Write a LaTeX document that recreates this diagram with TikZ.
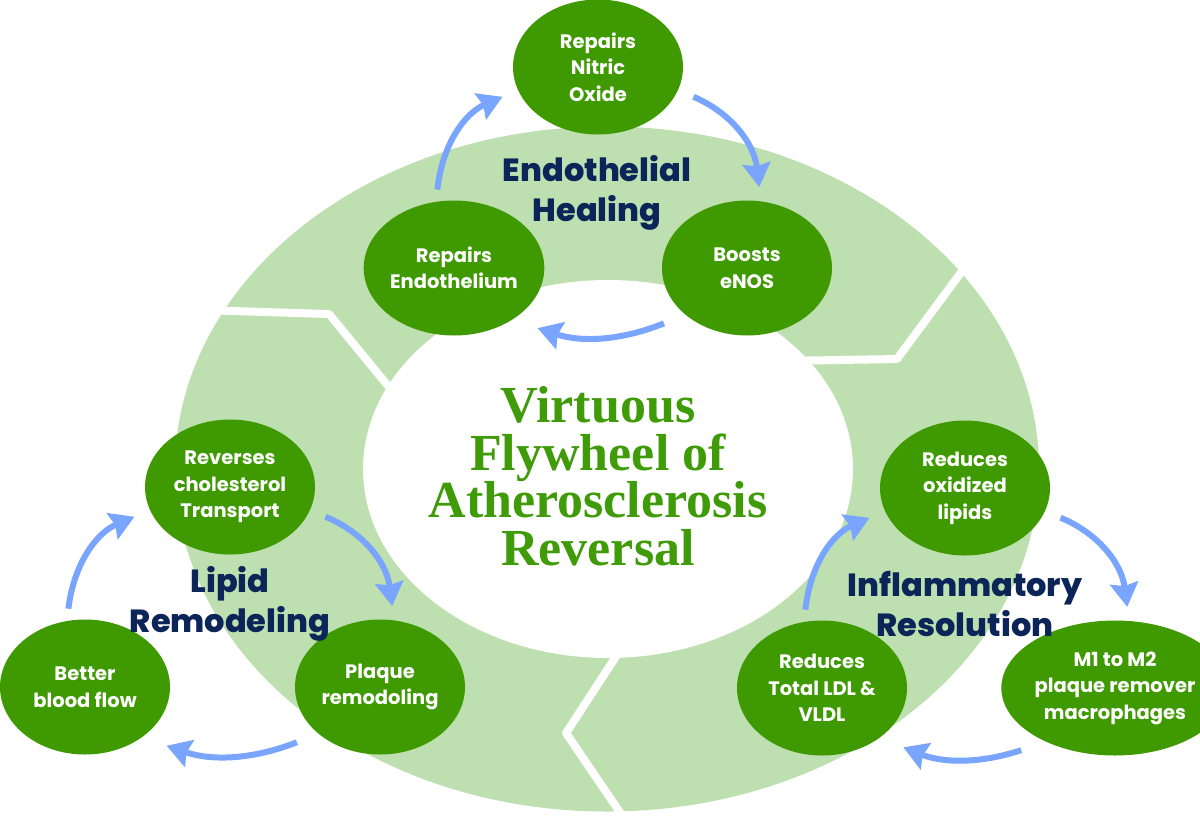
\documentclass[tikz,border=0pt]{standalone}
\usepackage{fontspec}
\setmainfont{Poppins}
\newfontfamily\titleserif{Liberation Serif}
\IfFontExistsTF{Poppins ExtraBold}
  {\newfontfamily\phasefont{Poppins ExtraBold}}
  {\newfontfamily\phasefont{Poppins}[UprightFeatures={FakeBold=2}]}
\usetikzlibrary{arrows.meta,shapes.geometric}
\definecolor{leaf}{HTML}{3E9A00}
\definecolor{ringgreen}{HTML}{BEDFB0}
\definecolor{navy}{HTML}{0B2559}
\definecolor{arrowblue}{HTML}{7AA5FF}
\definecolor{titlegreen}{HTML}{3F9B08}
\tikzset{
  every picture/.style={line join=round},
  % green ellipses with white text
  stage/.style={ellipse, fill=leaf, text=white, minimum width=170pt,
    minimum height=135pt, inner sep=0pt, outer sep=12pt, align=center,
    font=\bfseries\fontsize{19.5}{26.5}\selectfont},
  phase/.style={text=navy, align=center, inner sep=0pt,
    font=\phasefont\fontsize{32}{40}\selectfont},
  flowarrow/.style={arrowblue, line width=6pt,
    -{Stealth[length=24pt,width=28pt,inset=3pt]}},
  cut/.style={white, line width=8pt},
}

\begin{document}
\begin{tikzpicture}[x=1pt,y=-1pt]
\useasboundingbox (0,0) rectangle (1200,815);

% the flywheel ring
\fill[ringgreen] (607,469) ellipse [x radius=432, y radius=342.5];
\fill[white] (608,469) ellipse [x radius=245, y radius=189];
\draw[cut] (200,310) -- (329,314) -- (398,398);
\draw[cut] (968,263) -- (897,359) -- (780,361);
\draw[cut] (630,635) -- (566,733) -- (632,830);

% endothelial healing
\node[stage] (nitric) at (598,67) {Repairs\\Nitric\\Oxide};
\node[stage] (endo) at (454,268) {Repairs\\Endothelium};
\node[stage] (enos) at (747,268) {Boosts\\eNOS};

% lipid remodeling
\node[stage] (rct) at (230,487) {Reverses\\cholesterol\\Transport};
\node[stage] (blood) at (85,687) {Better\\blood flow};
\node[stage] (plaque) at (380,687) {Plaque\\remodoling};

% inflammatory resolution
\node[stage] (oxlip) at (965,488) {Reduces\\oxidized\\lipids};
\node[stage] (ldl) at (822,688) {Reduces\\Total LDL \&\\VLDL};
\node[stage] (macro) at (1115,688) {M1 to M2\\plaque remover\\macrophages};

\draw[flowarrow, shorten >=5pt] (endo.102) to[bend left=30] (nitric.197);
\draw[flowarrow, shorten <=5pt, shorten >=2pt] (nitric.343) to[bend left=30] (enos.81);
\draw[flowarrow, shorten <=10pt, shorten >=12pt] (enos.215) to[bend left=20] (endo.322);

\draw[flowarrow, shorten >=5pt] (blood.102) to[bend left=30] (rct.197);
\draw[flowarrow, shorten <=5pt, shorten >=2pt] (rct.343) to[bend left=30] (plaque.81);
\draw[flowarrow, shorten <=10pt, shorten >=12pt] (plaque.215) to[bend left=20] (blood.322);

\draw[flowarrow, shorten >=5pt] (ldl.102) to[bend left=30] (oxlip.197);
\draw[flowarrow, shorten <=5pt, shorten >=2pt] (oxlip.343) to[bend left=30] (macro.81);
\draw[flowarrow, shorten <=10pt, shorten >=12pt] (macro.215) to[bend left=20] (ldl.322);

\node[phase] (healing) at (597,193) {Endothelial\\Healing};
\node[phase] (lipid) at (230,604) {Lipid\\Remodeling};
\node[phase] (inflam) at (965,604) {Inflammatory\\Resolution};

\node[text=titlegreen, align=center, inner sep=0pt,
  font=\titleserif\bfseries\fontsize{52}{47.5}\selectfont] (title) at (598,476)
  {Virtuous\\Flywheel of\\Atherosclerosis\\Reversal};
\end{tikzpicture}
\end{document}
